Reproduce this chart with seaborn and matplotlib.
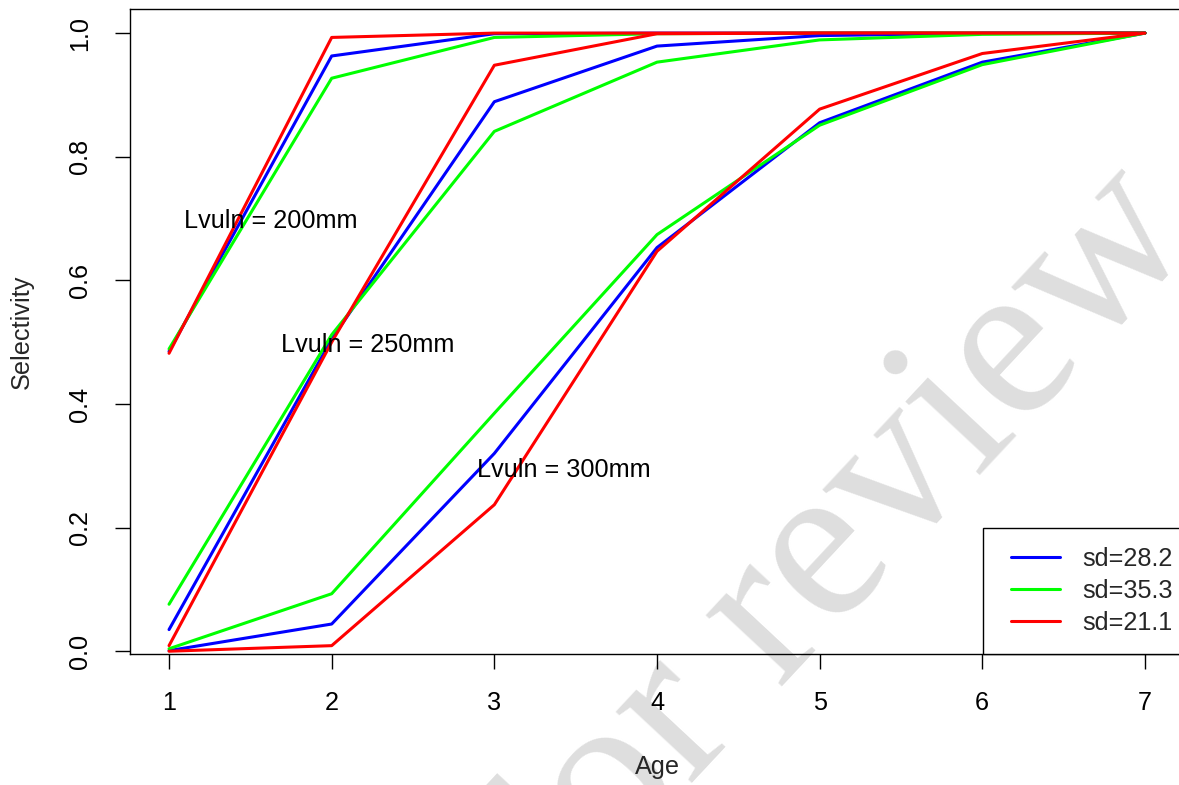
import numpy as np
import pandas as pd
import matplotlib
matplotlib.use("Agg")
import matplotlib.pyplot as plt
from matplotlib.lines import Line2D
from matplotlib.patches import Rectangle
import seaborn as sns

# ---------------- data ----------------
ages = [1, 2, 3, 4, 5, 6, 7]
sd_labels = ["sd=28.2", "sd=35.3", "sd=21.1"]
sd_colors = ["#0000FF", "#00FF00", "#FF0000"]

# Lvuln = 200mm
l200_sd28 = [0.485, 0.963, 0.999, 1.000, 1.000, 1.000, 1.000]
l200_sd35 = [0.489, 0.927, 0.993, 0.999, 1.000, 1.000, 1.000]
l200_sd21 = [0.482, 0.993, 1.000, 1.000, 1.000, 1.000, 1.000]
# Lvuln = 250mm
l250_sd28 = [0.035, 0.505, 0.889, 0.979, 0.996, 0.9995, 1.000]
l250_sd35 = [0.076, 0.512, 0.841, 0.953, 0.989, 0.998, 1.000]
l250_sd21 = [0.009, 0.500, 0.948, 0.999, 1.000, 1.000, 1.000]
# Lvuln = 300mm
l300_sd28 = [0.001, 0.044, 0.320, 0.653, 0.855, 0.953, 1.000]
l300_sd35 = [0.004, 0.093, 0.385, 0.674, 0.851, 0.949, 1.000]
l300_sd21 = [0.000, 0.009, 0.237, 0.647, 0.877, 0.967, 1.000]

groups = [
    [l200_sd28, l200_sd35, l200_sd21],
    [l250_sd28, l250_sd35, l250_sd21],
    [l300_sd28, l300_sd35, l300_sd21],
]
annot_text = ["Lvuln = 200mm", "Lvuln = 250mm", "Lvuln = 300mm"]
annot_x = [1.627, 2.223, 3.428]
annot_y = [0.684, 0.484, 0.282]

x_ticks = [1, 2, 3, 4, 5, 6, 7]
y_ticks = [0.0, 0.2, 0.4, 0.6, 0.8, 1.0]
y_ticklabels = ["0.0", "0.2", "0.4", "0.6", "0.8", "1.0"]

# ---------------- style ----------------
sns.set_style("white")
plt.rcParams["font.family"] = ["Liberation Sans", "DejaVu Sans"]
FS = 18.2

W, H, DPI = 1179, 785, 100
fig = plt.figure(figsize=(W / DPI, H / DPI), dpi=DPI)
fig.patch.set_facecolor("white")

# watermark (behind everything)
fig.text(0.732, 0.236, "For review", rotation=47, rotation_mode="anchor",
         ha="center", va="baseline", fontsize=163, color="#dedede",
         family=["Liberation Serif", "DejaVu Serif"], zorder=-5)

left_px, right_px, top_px, bot_px = 130, 1184, 9, 654
axw, axh = right_px - left_px, bot_px - top_px
ax = fig.add_axes([left_px / W, 1 - bot_px / H, axw / W, axh / H])
ax.patch.set_alpha(0)

for grp in groups:
    for vals, col in zip(grp, sd_colors):
        sns.lineplot(x=ages, y=vals, color=col, linewidth=2.2, ax=ax,
                     estimator=None, sort=False, legend=False)

for t, xx, yy in zip(annot_text, annot_x, annot_y):
    ax.text(xx, yy, t, ha="center", va="baseline", fontsize=FS, color="black")

ax.set_xlim(0.76, 7.24)
ax.set_ylim(-0.0045, 1.039)
ax.set_xticks(x_ticks)
ax.set_xticklabels([str(v) for v in x_ticks])
ax.set_yticks(y_ticks)
ax.set_yticklabels(y_ticklabels, rotation=90, va="center")

for s in ax.spines.values():
    s.set_visible(True)
    s.set_color("black")
    s.set_linewidth(1.0)

ax.tick_params(axis="both", direction="out", length=10.5, width=1.0,
               color="black", labelsize=FS, labelcolor="black",
               bottom=True, left=True, top=False, right=False)
ax.tick_params(axis="x", pad=16)
ax.tick_params(axis="y", pad=17)

ax.set_xlabel("Age", fontsize=FS)
ax.set_ylabel("Selectivity", fontsize=FS)
ax.xaxis.set_label_coords(0.5, (bot_px - 767) / axh, transform=ax.transAxes)
ax.yaxis.set_label_coords((22 - left_px) / axw, 0.5, transform=ax.transAxes)
ax.xaxis.label.set_va("center")
ax.yaxis.label.set_va("center")

# legend frame (R style, bottom-right, flush with the axes)
ax.add_patch(Rectangle(((983 - left_px) / axw, 0), 1 - (983 - left_px) / axw,
                       (bot_px - 528) / axh, transform=ax.transAxes,
                       facecolor="white", edgecolor="black", linewidth=1.0,
                       zorder=4, clip_on=False))
handles = [Line2D([0], [0], color=c, lw=2.2) for c in sd_colors]
leg = ax.legend(handles, sd_labels, loc="center right",
                bbox_to_anchor=((1173 - left_px) / axw, (bot_px - 591) / axh),
                borderaxespad=0, borderpad=0, fontsize=FS, frameon=False,
                handlelength=1.94, handletextpad=0.9, labelspacing=0.33)
leg.set_zorder(5)

fig.savefig("out.png", dpi=DPI, facecolor="white")
